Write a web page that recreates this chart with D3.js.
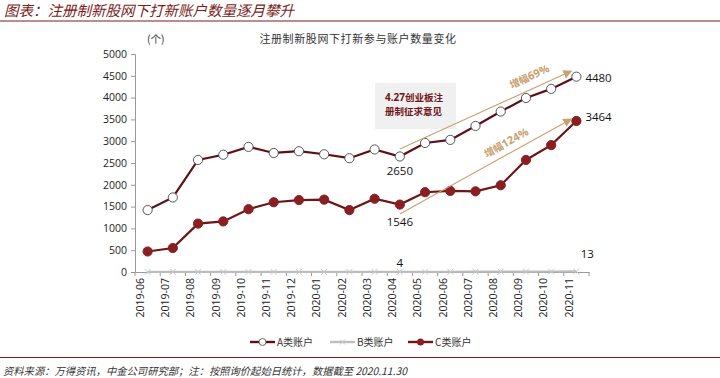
<!DOCTYPE html>
<html>
<head>
<meta charset="utf-8">
<script src="https://cdn.jsdelivr.net/npm/d3@7"></script>
<style>
  body { margin: 0; background: #fff; }
  svg { display: block; }
</style>
</head>
<body>
<div class="main"></div>
<script>
// data
const months = ['2019-06','2019-07','2019-08','2019-09','2019-10','2019-11','2019-12','2020-01','2020-02',
  '2020-03','2020-04','2020-05','2020-06','2020-07','2020-08','2020-09','2020-10','2020-11'];
const accountA = [1420,1710,2570,2690,2870,2730,2770,2700,2610,2810,2650,2960,3030,3350,3680,3990,4200,4480];
const accountB = [1,1,2,2,2,3,3,3,3,4,4,5,6,7,8,9,11,13];
const accountC = [470,550,1110,1160,1440,1600,1650,1660,1420,1680,1546,1830,1860,1850,1990,2570,2910,3464];
const yTicks = [0,500,1000,1500,2000,2500,3000,3500,4000,4500,5000];

const width = 720;
const height = 378;
const cjk = '"Noto Sans CJK SC", sans-serif';
const num = '"Open Sans", "Liberation Sans", sans-serif';
const maroon = '#5c1015';
const red = '#8a1f22';
const tan = '#c9a070';

const svg = d3.select('.main').append('svg')
  .attr('width', width)
  .attr('height', height);

// header
svg.append('text')
  .attr('x', 4).attr('y', 16)
  .attr('font-family', cjk).attr('font-style', 'italic')
  .attr('font-size', 14.5).attr('fill', '#7a1c1c')
  .text('图表：注册制新股网下打新账户数量逐月攀升');
svg.append('line')
  .attr('x1', 0).attr('x2', width).attr('y1', 21).attr('y2', 21)
  .attr('stroke', '#7a1c1c').attr('stroke-width', 1.2);

// footer
svg.append('line')
  .attr('x1', 0).attr('x2', width).attr('y1', 357.5).attr('y2', 357.5)
  .attr('stroke', '#7a1c1c').attr('stroke-width', 1);
svg.append('text')
  .attr('x', 3).attr('y', 375)
  .attr('font-family', cjk).attr('font-style', 'italic')
  .attr('font-size', 10.3).attr('fill', '#333')
  .text('资料来源：万得资讯，中金公司研究部；注：按照询价起始日统计，数据截至 2020.11.30');

// chart title
svg.append('text')
  .attr('x', 358).attr('y', 43)
  .attr('text-anchor', 'middle')
  .attr('font-family', cjk).attr('font-size', 11).attr('letter-spacing', 0.6)
  .attr('fill', '#333')
  .text('注册制新股网下打新参与账户数量变化');
svg.append('text')
  .attr('x', 147).attr('y', 43)
  .attr('font-family', cjk).attr('font-size', 10.5).attr('fill', '#333')
  .text('(个)');

// scales
const xScale = d3.scaleBand()
  .domain(months)
  .range([135, 589]);
const yScale = d3.scaleLinear()
  .domain([0, 5000])
  .range([272, 54]);
const cx = d => xScale(d) + xScale.bandwidth() / 2;

// y axis
const yAxis = d3.axisLeft(yScale).tickValues(yTicks).tickFormat(d3.format('d')).tickSize(4).tickPadding(4);
const gy = svg.append('g')
  .attr('transform', 'translate(135,0)')
  .call(yAxis);
gy.select('.domain').attr('stroke', '#999');
gy.selectAll('.tick line').attr('stroke', '#999');
gy.selectAll('.tick text').attr('font-family', num).attr('font-size', 10.5).attr('fill', '#222');

// x axis, ticks on band boundaries
const xAxis = d3.axisBottom(xScale).tickSize(0).tickPadding(6);
const gx = svg.append('g')
  .attr('transform', 'translate(0,272)')
  .call(xAxis);
gx.select('.domain').attr('stroke', '#999');
gx.selectAll('.tick text')
  .attr('font-family', num).attr('font-size', 10.5).attr('fill', '#222')
  .attr('transform', 'rotate(-90)')
  .attr('text-anchor', 'end')
  .attr('dx', '-6').attr('dy', '-0.35em')
  .attr('x', 0).attr('y', 0);
gx.selectAll('.bound')
  .data(months.concat(['end']))
  .enter()
  .append('line')
  .attr('x1', (d, i) => i < months.length ? xScale(d) : xScale.range()[1])
  .attr('x2', (d, i) => i < months.length ? xScale(d) : xScale.range()[1])
  .attr('y1', 0).attr('y2', 4)
  .attr('stroke', '#999');

// lines
const line = d3.line().x(d => cx(d.m)).y(d => yScale(d.v));
const toPts = arr => arr.map((v, i) => ({ m: months[i], v: v }));

// B series
svg.append('path')
  .datum(toPts(accountB))
  .attr('d', line)
  .attr('fill', 'none').attr('stroke', '#bdbdbd').attr('stroke-width', 2.2);
svg.selectAll('.bmark')
  .data(toPts(accountB))
  .enter()
  .append('path')
  .attr('transform', d => `translate(${cx(d.m)},${yScale(d.v)})`)
  .attr('d', 'M-3,-3L3,3M-3,3L3,-3')
  .attr('stroke', '#c8c8c8').attr('stroke-width', 1);

// C series
svg.append('path')
  .datum(toPts(accountC))
  .attr('d', line)
  .attr('fill', 'none').attr('stroke', '#6e1518').attr('stroke-width', 2.2);
svg.selectAll('.cmark')
  .data(toPts(accountC))
  .enter()
  .append('circle')
  .attr('cx', d => cx(d.m)).attr('cy', d => yScale(d.v))
  .attr('r', 4.6)
  .attr('fill', red).attr('stroke', red);

// A series
svg.append('path')
  .datum(toPts(accountA))
  .attr('d', line)
  .attr('fill', 'none').attr('stroke', maroon).attr('stroke-width', 2.2);
svg.selectAll('.amark')
  .data(toPts(accountA))
  .enter()
  .append('circle')
  .attr('cx', d => cx(d.m)).attr('cy', d => yScale(d.v))
  .attr('r', 4.6)
  .attr('fill', '#fff').attr('stroke', '#444').attr('stroke-width', 0.9);

// value labels
const labels = [
  { m: '2020-04', v: accountA[10], dx: 0, dy: 19, anchor: 'middle' },
  { m: '2020-04', v: accountC[10], dx: 0, dy: 21, anchor: 'middle' },
  { m: '2020-11', v: accountA[17], dx: 9, dy: 5, anchor: 'start' },
  { m: '2020-11', v: accountC[17], dx: 9, dy: 0, anchor: 'start' },
  { m: '2020-04', v: accountB[10], dx: 0, dy: -5, anchor: 'middle' },
  { m: '2020-11', v: accountB[17], dx: 11, dy: -13, anchor: 'middle' }
];
svg.selectAll('.vlabel')
  .data(labels)
  .enter()
  .append('text')
  .attr('x', d => cx(d.m) + d.dx)
  .attr('y', d => yScale(d.v) + d.dy)
  .attr('text-anchor', d => d.anchor)
  .attr('font-family', num).attr('font-size', 11.5).attr('fill', '#111')
  .text(d => d.v);

// annotation box
svg.append('rect')
  .attr('x', 375).attr('y', 83).attr('width', 81).attr('height', 46)
  .attr('fill', '#f0f0f0');
const ann1 = svg.append('text')
  .attr('x', 385).attr('y', 101)
  .attr('font-family', cjk).attr('font-size', 9.5).attr('fill', '#6e1518');
ann1.append('tspan').attr('font-family', num).attr('font-weight', 'bold').attr('font-size', 10).text('4.27');
ann1.append('tspan').attr('font-weight', 'bold').text('创业板注');
svg.append('text')
  .attr('x', 385).attr('y', 115)
  .attr('font-family', cjk).attr('font-size', 9.5).attr('font-weight', 'bold').attr('fill', '#6e1518')
  .text('册制征求意见');

// trend arrows
const defs = svg.append('defs');
defs.append('marker')
  .attr('id', 'head')
  .attr('viewBox', '0 0 10 10')
  .attr('refX', 9).attr('refY', 5)
  .attr('markerWidth', 9).attr('markerHeight', 9)
  .attr('markerUnits', 'userSpaceOnUse')
  .attr('orient', 'auto')
  .append('path').attr('d', 'M0,0L10,5L0,10Z').attr('fill', tan);

const arrows = [
  { x1: cx('2020-04'), y1: yScale(2820), x2: cx('2020-11') - 5, y2: yScale(4610), text: '增幅69%', tx: 531, ty: 80 },
  { x1: cx('2020-04'), y1: yScale(1330), x2: cx('2020-11') - 5, y2: yScale(3510), text: '增幅124%', tx: 508, ty: 146 }
];
arrows.forEach(a => {
  svg.append('line')
    .attr('x1', a.x1).attr('y1', a.y1).attr('x2', a.x2).attr('y2', a.y2)
    .attr('stroke', tan).attr('stroke-width', 1.1)
    .attr('marker-end', 'url(#head)');
  const ang = Math.atan2(a.y2 - a.y1, a.x2 - a.x1) * 180 / Math.PI;
  const t = svg.append('text')
    .attr('transform', `translate(${a.tx},${a.ty}) rotate(${ang})`)
    .attr('text-anchor', 'middle')
    .attr('font-family', cjk).attr('font-size', 10).attr('font-weight', 'bold').attr('fill', tan);
  t.append('tspan').text(a.text.slice(0, 2));
  t.append('tspan').attr('font-family', num).attr('font-size', 11).text(a.text.slice(2));
});

// legend
const legend = [
  { name: 'A类账户', color: maroon, mark: 'open', x: 250 },
  { name: 'B类账户', color: '#bdbdbd', mark: 'cross', x: 330 },
  { name: 'C类账户', color: '#6e1518', mark: 'dot', x: 408 }
];
const lg = svg.selectAll('.legend')
  .data(legend)
  .enter()
  .append('g')
  .attr('transform', d => `translate(${d.x},342)`);
lg.append('line')
  .attr('x1', 0).attr('x2', 25).attr('y1', 0).attr('y2', 0)
  .attr('stroke', d => d.color).attr('stroke-width', 2.4);
lg.filter(d => d.mark === 'open').append('circle')
  .attr('cx', 12.5).attr('r', 3.5).attr('fill', '#fff').attr('stroke', '#444').attr('stroke-width', 0.8);
lg.filter(d => d.mark === 'dot').append('circle')
  .attr('cx', 12.5).attr('r', 3.5).attr('fill', red);
lg.filter(d => d.mark === 'cross').append('path')
  .attr('d', 'M10,-2.5L15,2.5M10,2.5L15,-2.5').attr('stroke', '#c8c8c8');
lg.append('text')
  .attr('x', 27).attr('y', 3.5)
  .attr('font-family', cjk).attr('font-size', 10).attr('fill', '#333')
  .text(d => d.name);
</script>
</body>
</html>
